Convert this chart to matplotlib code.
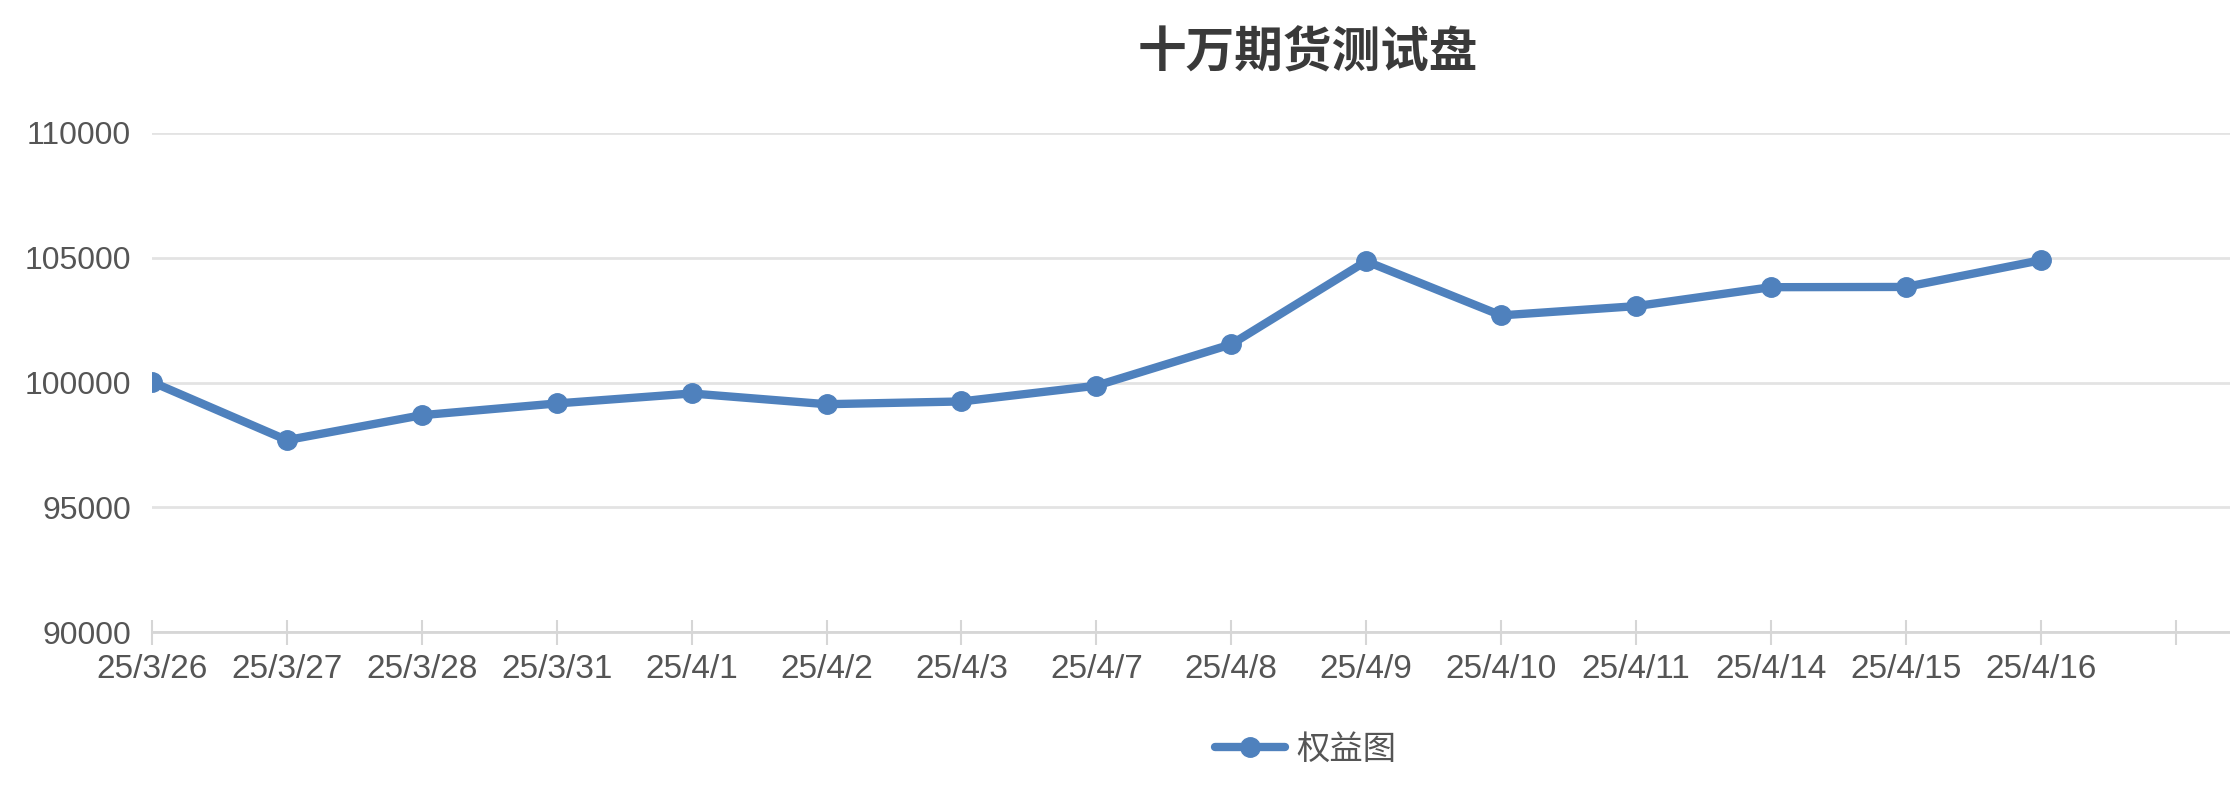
import matplotlib
matplotlib.use("Agg")
import matplotlib.pyplot as plt

plt.rcParams["font.family"] = ["Liberation Sans", "Noto Sans CJK SC", "DejaVu Sans"]

# datas e patrimonio
datas = ["25/3/26", "25/3/27", "25/3/28", "25/3/31", "25/4/1", "25/4/2", "25/4/3",
         "25/4/7", "25/4/8", "25/4/9", "25/4/10", "25/4/11", "25/4/14", "25/4/15",
         "25/4/16"]
equity = [100020, 97690, 98690, 99160, 99560, 99130, 99240,
          99870, 101530, 104860, 102690, 103060, 103820, 103830,
          104900]
y_ticks = [90000, 95000, 100000, 105000, 110000]

titulo = "十万期货测试盘"
serie = "权益图"

azul = "#4f81bd"
cinza_txt = "#555555"

fig = plt.figure(figsize=(22.3, 7.92), dpi=100)
ax = fig.add_axes([152 / 2230, 1 - 632 / 792, 1 - 152 / 2230, (632 - 133) / 792])

x = list(range(len(datas)))
ax.plot(x, equity, color=azul, lw=6, marker="o", ms=14,
        solid_joinstyle="round", solid_capstyle="round", label=serie, zorder=3)

ax.set_ylim(90000, 110000)
ax.set_yticks(y_ticks)
ax.set_xlim(0, (2230 - 152) / 134.9)
ax.set_xticks(list(range(len(datas) + 1)))
ax.set_xticklabels(datas + [""])

ax.grid(axis="y", color="#e3e3e3", lw=2)
ax.set_axisbelow(True)
for s in ["left", "right", "top"]:
    ax.spines[s].set_visible(False)
ax.spines["bottom"].set_color("#d6d6d6")
ax.spines["bottom"].set_linewidth(2)

ax.tick_params(axis="x", direction="inout", length=18, width=1.5, color="#d6d6d6",
               labelsize=24, labelcolor=cinza_txt, pad=7)
ax.tick_params(axis="y", length=0, labelsize=23, labelcolor=cinza_txt, pad=15)

fig.text(1308 / 2230, 1 - 53 / 792, titulo, ha="center", va="center",
         fontsize=35, fontweight="bold", color="#3a3a3a",
         family=["Noto Sans CJK SC", "DejaVu Sans"])

leg = fig.legend(loc="center", bbox_to_anchor=(1306 / 2230, 1 - 749 / 792),
                 frameon=False, handlelength=2.1, handletextpad=0.35,
                 prop={"family": ["Noto Sans CJK SC"], "size": 24})
for t in leg.get_texts():
    t.set_color(cinza_txt)

fig.savefig("out.png", dpi=100, facecolor="white")
